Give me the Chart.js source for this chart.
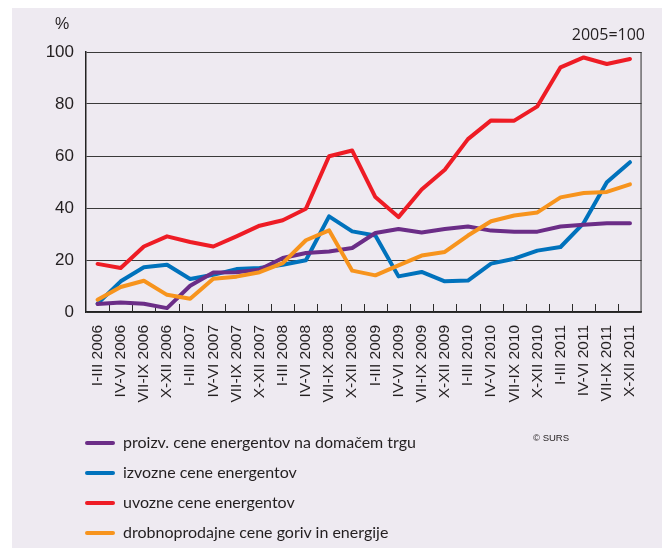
<!DOCTYPE html>
<html>
<head>
<meta charset="utf-8">
<script src="https://cdn.jsdelivr.net/npm/chart.js@4.4.1/dist/chart.umd.min.js"></script>
<style>
  html, body { margin: 0; padding: 0; background: #ffffff; }
  #wrap { position: relative; width: 662px; height: 548px; overflow: hidden; }
  #panel { position: absolute; left: 12px; top: 8px; right: 0; bottom: 0; background: #EEEAF1; }
  #chart { position: absolute; left: 0; top: 0; }
  .txt { position: absolute; color: #231F20; white-space: nowrap; }
  #unit { left: 55px; top: 15px; font: 16px "Liberation Sans", Arial, sans-serif; }
  #base { right: 17px; top: 23px; font: 16px "Open Sans", sans-serif; }
  #src { left: 533px; top: 432px; font: 9.5px "Liberation Sans", Arial, sans-serif; }
  .leg { position: absolute; left: 85px; height: 20px; font: 16px Lato, sans-serif; color: #231F20; white-space: nowrap; }
  .leg i { position: absolute; left: 0; top: 8px; width: 30px; height: 4px; border-radius: 2px; }
  .leg span { position: absolute; left: 38px; top: -1px; }
</style>
</head>
<body>
<div id="wrap">
  <div id="panel"></div>
  <canvas id="chart" width="662" height="548"></canvas>
  <div class="txt" id="unit">%</div>
  <div class="txt" id="base">2005=100</div>
  <div class="txt" id="src">© SURS</div>
  <div id="legend"></div>
</div>
<script>
// Quarterly energy price indices, 2005 = 100
const quarters = [
  "I-III 2006", "IV-VI 2006", "VII-IX 2006", "X-XII 2006",
  "I-III 2007", "IV-VI 2007", "VII-IX 2007", "X-XII 2007",
  "I-III 2008", "IV-VI 2008", "VII-IX 2008", "X-XII 2008",
  "I-III 2009", "IV-VI 2009", "VII-IX 2009", "X-XII 2009",
  "I-III 2010", "IV-VI 2010", "VII-IX 2010", "X-XII 2010",
  "I-III 2011", "IV-VI 2011", "VII-IX 2011", "X-XII 2011"
];

const domesticProducer = [3.1, 3.7, 3.2, 1.5, 10.1, 15.2, 15.3, 16.3, 20.8, 22.7, 23.3, 24.6,
                          30.4, 31.9, 30.6, 31.9, 32.9, 31.3, 30.9, 30.9, 32.9, 33.6, 34.1, 34.1];
const exportPrices     = [3.2, 11.8, 17.2, 18.2, 12.7, 14.3, 16.5, 16.9, 18.2, 19.9, 36.8, 31.0,
                          29.4, 13.7, 15.4, 11.8, 12.1, 18.6, 20.5, 23.6, 25.0, 34.2, 49.9, 57.6];
const importPrices     = [18.5, 16.9, 25.2, 29.1, 26.9, 25.2, 29.1, 33.2, 35.3, 39.7, 59.9, 62.1,
                          44.2, 36.5, 47.1, 54.7, 66.5, 73.7, 73.6, 79.1, 94.1, 97.9, 95.4, 97.3];
const retailPrices     = [4.7, 9.6, 12.0, 6.6, 5.1, 12.8, 13.6, 15.3, 18.8, 27.6, 31.4, 15.9,
                          14.1, 17.9, 21.7, 23.1, 29.4, 34.9, 37.1, 38.3, 44.1, 45.8, 46.2, 49.1];

const yTicks = [0, 20, 40, 60, 80, 100];

const seriesNames = [
  "proizv. cene energentov na domačem trgu",
  "izvozne cene energentov",
  "uvozne cene energentov",
  "drobnoprodajne cene goriv in energije"
];
const seriesColors = ["#6B2D87", "#0072BC", "#EE1C25", "#F7941D"];
const seriesData = [domesticProducer, exportPrices, importPrices, retailPrices];

// legend: one item per row below the plot
const legendEl = document.getElementById("legend");
seriesNames.forEach((name, i) => {
  const row = document.createElement("div");
  row.className = "leg";
  row.style.top = (433 + i * 30) + "px";
  row.innerHTML = '<i style="background:' + seriesColors[i] + '"></i><span>' + name + '</span>';
  legendEl.appendChild(row);
});

// right frame edge and short inward ticks between quarters
const framePlugin = {
  id: "frame",
  beforeDatasetsDraw(chart) {
    const { ctx, chartArea: a, scales: { x } } = chart;
    ctx.save();
    ctx.strokeStyle = "#2b2b2b";
    ctx.lineWidth = 1;
    ctx.beginPath();
    ctx.moveTo(a.right - 0.5, a.top);
    ctx.lineTo(a.right - 0.5, a.bottom);
    for (let i = 1; i < quarters.length; i++) {
      const px = Math.round((x.getPixelForValue(i - 1) + x.getPixelForValue(i)) / 2) + 0.5;
      ctx.moveTo(px, a.bottom);
      ctx.lineTo(px, a.bottom - 8);
    }
    ctx.stroke();
    ctx.restore();
  }
};

new Chart(document.getElementById("chart"), {
  type: "line",
  data: {
    labels: quarters,
    datasets: seriesData.map((d, i) => ({
      label: seriesNames[i],
      data: d,
      borderColor: seriesColors[i],
      backgroundColor: seriesColors[i],
      borderWidth: 4,
      pointRadius: 0,
      tension: 0,
      borderJoinStyle: "round",
      borderCapStyle: "round",
      order: [2, 3, 0, 1][i]
    }))
  },
  options: {
    responsive: false,
    animation: false,
    events: [],
    layout: { padding: { left: 0, top: 52, right: 20, bottom: 0 } },
    plugins: { legend: { display: false }, tooltip: { enabled: false } },
    scales: {
      x: {
        offset: true,
        grid: { display: true, drawOnChartArea: false, drawTicks: false },
        border: { display: true, color: "#222", width: 1.5 },
        ticks: {
          autoSkip: false,
          minRotation: 90,
          maxRotation: 90,
          padding: 13,
          color: "#231F20",
          font: { family: "'Liberation Sans', Arial, sans-serif", size: 15.5 }
        },
        afterFit(scale) { scale.height = 548 - 312; }
      },
      y: {
        min: 0,
        max: 100,
        afterBuildTicks(scale) { scale.ticks = yTicks.map(v => ({ value: v })); },
        grid: { color: "#3a3a3a", lineWidth: 1, drawTicks: false },
        border: { display: true, color: "#222", width: 1.5 },
        ticks: {
          padding: 12,
          color: "#231F20",
          font: { family: "'Liberation Sans', Arial, sans-serif", size: 17 }
        },
        afterFit(scale) { scale.width = 86; }
      }
    }
  },
  plugins: [framePlugin]
});
</script>
</body>
</html>
